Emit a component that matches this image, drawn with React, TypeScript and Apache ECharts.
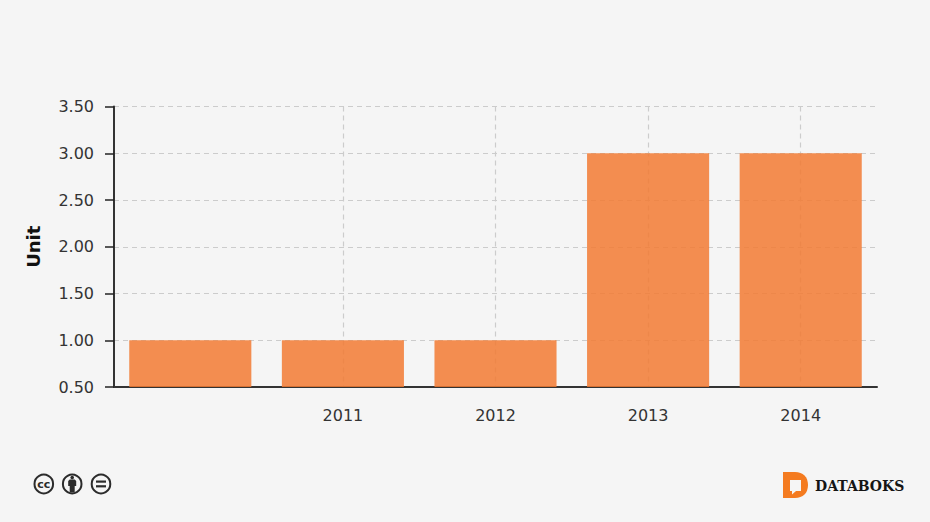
import React, { useEffect, useRef } from "react";
import * as echarts from "echarts";

const categories = ["", "2011", "2012", "2013", "2014"];
const values = [1, 1, 1, 3, 3];
const yTicks = { min: 0.5, max: 3.5, interval: 0.5 };
const yName = "Unit";
const brand = "DATABOKS";

echarts.graphic.registerShape(
  "dbLogo",
  echarts.graphic.extendPath("M0 0 H12 C20 0 25 5 25 13 C25 21 20 26 12 26 H0 Z", {}) as any
);
echarts.graphic.registerShape(
  "dbBubble",
  echarts.graphic.extendPath("M0 0 H11 V11 H6 L2 14.5 V11 H0 Z", {}) as any
);
echarts.graphic.registerShape(
  "ccPerson",
  echarts.graphic.extendPath("M1.5 0 H6.5 L8 1.5 V6.5 H6.5 V13 H1.5 V6.5 H0 V1.5 Z", {}) as any
);

const ink = "#2b2b2b";
const ring = (cx: number) => ({
  type: "circle",
  shape: { cx, cy: 484, r: 9.3 },
  style: { fill: "#f5f5f5", stroke: ink, lineWidth: 2 },
  silent: true,
});

export default function App() {
  const ref = useRef<HTMLDivElement>(null);
  useEffect(() => {
    document.body.style.margin = "0";
    const chart = echarts.init(ref.current!, undefined, { renderer: "svg" });
    const showNotFirst = (i: number) => i > 0;
    chart.setOption({
      animation: false,
      backgroundColor: "#f5f5f5",
      grid: { left: 114, right: 53, top: 106.5, bottom: 135 },
      xAxis: {
        type: "category",
        data: categories,
        axisLine: { lineStyle: { color: "#333", width: 2 } },
        axisTick: { alignWithLabel: true, length: 8, interval: showNotFirst, lineStyle: { color: "#222", width: 1.5 } },
        axisLabel: { interval: 0, color: "#333", fontFamily: "DejaVu Sans", fontSize: 16, margin: 20 },
        splitLine: {
          show: true,
          alignWithLabel: true,
          interval: showNotFirst,
          lineStyle: { color: "#cccccc", type: [5, 4], width: 1.2 },
        },
      },
      yAxis: {
        type: "value",
        ...yTicks,
        name: yName,
        nameLocation: "middle",
        nameGap: 72,
        nameTextStyle: { color: "#111", fontFamily: "DejaVu Sans", fontSize: 18, fontWeight: "bold" },
        axisLine: { show: true, lineStyle: { color: "#333", width: 2 } },
        axisTick: { show: true, length: 9, lineStyle: { color: "#222", width: 1.5 } },
        axisLabel: {
          color: "#333",
          fontFamily: "DejaVu Sans",
          fontSize: 16,
          margin: 20,
          formatter: (v: number) => v.toFixed(2),
        },
        splitLine: { show: true, lineStyle: { color: "#cccccc", type: [5, 4], width: 1.2 } },
      },
      series: [
        {
          type: "bar",
          data: values,
          barWidth: "80%",
          itemStyle: { color: "#f27a33", opacity: 0.85 },
        },
      ],
      graphic: [
        ring(43.8),
        {
          type: "text",
          x: 43.8,
          y: 484,
          style: { text: "cc", fill: ink, font: "bold 11px 'DejaVu Sans'", align: "center", verticalAlign: "middle" },
        },
        ring(72.2),
        { type: "circle", shape: { cx: 72.2, cy: 477.5, r: 1.8 }, style: { fill: ink } },
        { type: "ccPerson", x: 68.2, y: 479.5, style: { fill: ink } },
        ring(101),
        { type: "rect", shape: { x: 96, y: 480.5, width: 10, height: 2.2 }, style: { fill: ink } },
        { type: "rect", shape: { x: 96, y: 485.2, width: 10, height: 2.2 }, style: { fill: ink } },
        { type: "dbLogo", x: 783, y: 472, style: { fill: "#f47b20" } },
        { type: "dbBubble", x: 790, y: 480, style: { fill: "#f5f5f5" } },
        {
          type: "text",
          x: 815,
          y: 486,
          style: {
            text: brand,
            fill: "#151515",
            font: "bold 14px 'DejaVu Serif'",
            verticalAlign: "middle",
          },
        },
      ],
    });
    return () => chart.dispose();
  }, []);
  return <div ref={ref} style={{ width: 930, height: 522 }} />;
}
